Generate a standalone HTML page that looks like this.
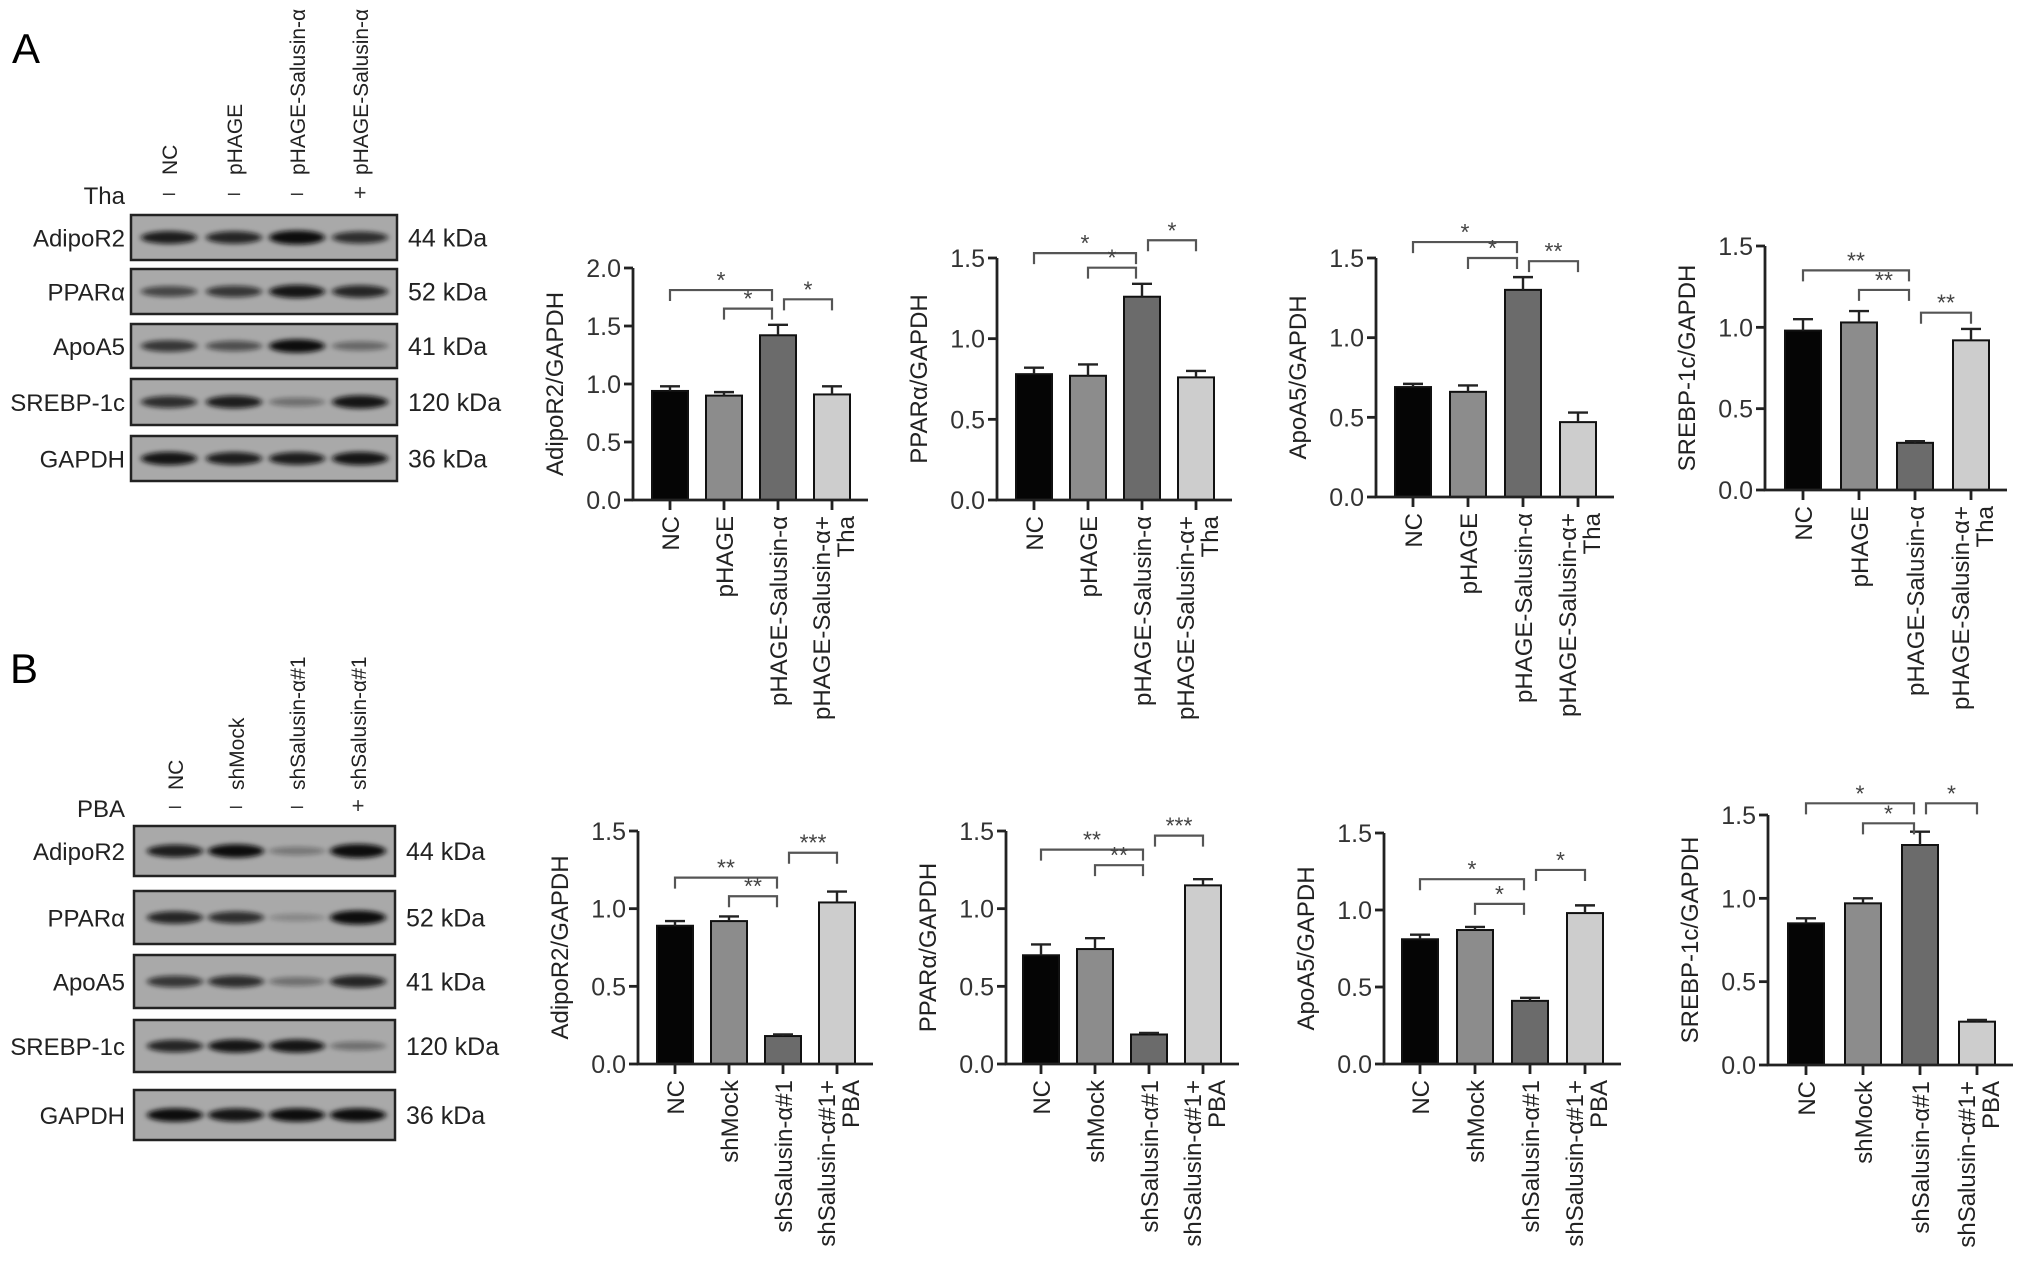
<!DOCTYPE html>
<html><head><meta charset="utf-8"><style>
html,body{margin:0;padding:0;background:#fff;}
svg{display:block;font-family:"Liberation Sans",Arial,sans-serif;}
</style></head><body>
<svg id="fig" width="2031" height="1272" viewBox="0 0 2031 1272" xmlns="http://www.w3.org/2000/svg">
<defs><filter id="blur" x="-20%" y="-100%" width="140%" height="300%"><feGaussianBlur stdDeviation="3 2.5"/></filter></defs>
<text x="12" y="63" font-size="42">A</text>
<text x="10" y="683" font-size="42">B</text>
<g id="blots"></g>
<g id="charts"></g>
</svg>
<script>
const NS='http://www.w3.org/2000/svg';
function mk(tag,attrs,parent,txt){const e=document.createElementNS(NS,tag);for(const k in attrs)e.setAttribute(k,attrs[k]);if(txt!==undefined)e.textContent=txt;parent.appendChild(e);return e;}

// ---------- chart data ----------
const catsA=['NC','pHAGE','pHAGE-Salusin-α',['pHAGE-Salusin-α+','Tha']];
const catsB=['NC','shMock','shSalusin-α#1',['shSalusin-α#1+','PBA']];
const a1Vals=[0.94,0.90,1.42,0.91]; const a1Err=[0.04,0.03,0.09,0.07];
const a2Vals=[0.78,0.77,1.26,0.76]; const a2Err=[0.04,0.07,0.08,0.04];
const a3Vals=[0.69,0.66,1.30,0.47]; const a3Err=[0.02,0.04,0.08,0.06];
const a4Vals=[0.98,1.03,0.29,0.92]; const a4Err=[0.07,0.07,0.01,0.07];
const b1Vals=[0.89,0.92,0.18,1.04]; const b1Err=[0.03,0.03,0.01,0.07];
const b2Vals=[0.70,0.74,0.19,1.15]; const b2Err=[0.07,0.07,0.01,0.04];
const b3Vals=[0.81,0.87,0.41,0.98]; const b3Err=[0.03,0.02,0.02,0.05];
const b4Vals=[0.85,0.97,1.32,0.26]; const b4Err=[0.03,0.03,0.08,0.01];
const ticks2=['0.0','0.5','1.0','1.5','2.0'];
const ticks15=['0.0','0.5','1.0','1.5'];
// significance brackets: [fromBar,toBar,level,label]
const a1Sig=[[0,2,1.81,'*'],[1,2,1.65,'*'],[2,3,1.73,'*']];
const a2Sig=[[0,2,1.53,'*'],[1,2,1.44,'*'],[2,3,1.61,'*']];
const a3Sig=[[0,2,1.60,'*'],[1,2,1.50,'*'],[2,3,1.48,'**']];
const a4Sig=[[0,2,1.35,'**'],[1,2,1.23,'**'],[2,3,1.09,'**']];
const b1Sig=[[0,2,1.20,'**'],[1,2,1.08,'**'],[2,3,1.36,'***']];
const b2Sig=[[0,2,1.38,'**'],[1,2,1.28,'**'],[2,3,1.47,'***']];
const b3Sig=[[0,2,1.20,'*'],[1,2,1.04,'*'],[2,3,1.26,'*']];
const b4Sig=[[0,2,1.57,'*'],[1,2,1.45,'*'],[2,3,1.57,'*']];
const fills=['#050505','#8c8c8c','#6b6b6b','#cdcdcd'];

function chart(o){
  const g=mk('g',{},document.getElementById('charts'));
  
  
  const ymax=parseFloat(o.ticks[o.ticks.length-1]);
  const y=v=>o.zero-(v/ymax)*(o.zero-o.top);
  const x=i=>o.ax+o.off+i*o.sp;
  const bw=36;
  o.vals.forEach((v,i)=>{
    const r=mk('rect',{x:x(i)-bw/2,y:y(v),width:bw,height:o.zero-y(v),fill:fills[i],stroke:'#111','stroke-width':2},g);
    
    
    const e=o.err[i];
    const p=mk('path',{d:`M${x(i)},${y(v)} V${y(v+e)} M${x(i)-10},${y(v+e)} H${x(i)+10}`,stroke:'#222','stroke-width':2.4,fill:'none'},g);
    
    
  });
  const axEnd=x(3)+bw/2+18;
  mk('path',{d:`M${o.ax},${o.top} V${o.zero} H${axEnd}`,stroke:'#222','stroke-width':2.8,fill:'none'},g);
  o.ticks.forEach((t,i)=>{
    const ty=y(parseFloat(t));
    mk('line',{x1:o.ax-9,x2:o.ax,y1:ty,y2:ty,stroke:'#222','stroke-width':2.8},g);
    const tt=mk('text',{x:o.ax-12,y:ty+9,'font-size':25,'text-anchor':'end',fill:'#333'},g,t);
    
    
  });
  const yt=mk('text',{transform:`translate(${o.ax-70},${(o.top+o.zero)/2}) rotate(-90)`,'font-size':24,'text-anchor':'middle',fill:'#222'},g,o.title);
  
  
  o.cats.forEach((c,i)=>{
    mk('line',{x1:x(i),x2:x(i),y1:o.zero,y2:o.zero+10,stroke:'#222','stroke-width':2.8},g);
    const lines=Array.isArray(c)?c:[c];
    lines.forEach((l,j)=>{
      const dx=lines.length>1?(j===0?-11:13):0;
      const ct=mk('text',{transform:`translate(${x(i)+9+dx},${o.zero+16}) rotate(-90)`,'font-size':24,'text-anchor':'end',fill:'#222'},g,l);
      
      
    });
  });
  o.sig.forEach(s=>{
    const by=y(s[2]);
    const x1=x(s[0])+(s[0]===2?6:0), x2=x(s[1])-(s[1]===2?6:0);
    const bp=mk('path',{d:`M${x1},${by+11} V${by} H${x2} V${by+11}`,stroke:'#555','stroke-width':2.2,fill:'none'},g);
    
    
    const st=mk('text',{x:(x1+x2)/2,y:by-2,'font-size':23,'text-anchor':'middle',fill:'#444'},g,s[3]);
    
    
  });
}
chart({name:'chart-a-adipor2',ax:633,top:268,zero:500,off:37,sp:54,ticks:ticks2,vals:a1Vals,err:a1Err,sig:a1Sig,cats:catsA,title:'AdipoR2/GAPDH'});
chart({name:'chart-a-ppara',ax:997,top:258,zero:500,off:37,sp:54,ticks:ticks15,vals:a2Vals,err:a2Err,sig:a2Sig,cats:catsA,title:'PPARα/GAPDH'});
chart({name:'chart-a-apoa5',ax:1376,top:258,zero:497,off:37,sp:55,ticks:ticks15,vals:a3Vals,err:a3Err,sig:a3Sig,cats:catsA,title:'ApoA5/GAPDH'});
chart({name:'chart-a-srebp1c',ax:1765,top:246,zero:490,off:38,sp:56,ticks:ticks15,vals:a4Vals,err:a4Err,sig:a4Sig,cats:catsA,title:'SREBP-1c/GAPDH'});
chart({name:'chart-b-adipor2',ax:638,top:831,zero:1064,off:37,sp:54,ticks:ticks15,vals:b1Vals,err:b1Err,sig:b1Sig,cats:catsB,title:'AdipoR2/GAPDH'});
chart({name:'chart-b-ppara',ax:1006,top:831,zero:1064,off:35,sp:54,ticks:ticks15,vals:b2Vals,err:b2Err,sig:b2Sig,cats:catsB,title:'PPARα/GAPDH'});
chart({name:'chart-b-apoa5',ax:1384,top:833,zero:1064,off:36,sp:55,ticks:ticks15,vals:b3Vals,err:b3Err,sig:b3Sig,cats:catsB,title:'ApoA5/GAPDH'});
chart({name:'chart-b-srebp1c',ax:1768,top:815,zero:1065,off:38,sp:57,ticks:ticks15,vals:b4Vals,err:b4Err,sig:b4Sig,cats:catsB,title:'SREBP-1c/GAPDH'});

// ---------- blots ----------
const blotRows=['AdipoR2','PPARα','ApoA5','SREBP-1c','GAPDH'];
const blotKda=['44 kDa','52 kDa','41 kDa','120 kDa','36 kDa'];
const blotAIntensity=[[0.85,0.8,1,0.75],[0.6,0.7,0.9,0.8],[0.7,0.55,0.95,0.4],[0.75,0.85,0.35,0.9],[0.9,0.85,0.85,0.9]];
const blotBIntensity=[[0.85,0.95,0.3,1],[0.8,0.75,0.2,1],[0.7,0.75,0.35,0.8],[0.8,0.9,0.9,0.35],[0.95,0.9,0.95,0.95]];
function blot(o){
  const g=mk('g',{},document.getElementById('blots'));
  
  
  o.lanes.forEach((ln,i)=>{
    const t=mk('text',{transform:`translate(${o.lx[i]+8},${o.headY}) rotate(-90)`,'font-size':21,'text-anchor':'start',fill:'#222'},g,ln);
    
    
    const s=mk('text',{x:o.lx[i],y:o.signY,'font-size':22,'text-anchor':'middle',fill:'#333'},g,o.signs[i]);
    
    
  });
  const tl=mk('text',{x:125,y:o.signY+4,'font-size':24,'text-anchor':'end',fill:'#222'},g,o.treat);
  
  
  o.rows.forEach((r,ri)=>{
    const [y0,y1]=o.ry[ri];
    const box=mk('rect',{x:o.bx0,y:y0,width:o.bx1-o.bx0,height:y1-y0,fill:'#a9a9a9',stroke:'#222','stroke-width':2.5},g);
    
    
    const cy=(y0+y1)/2;
    o.lx.forEach((lx,i)=>{
      const a=o.int[ri][i];
      const el=mk('ellipse',{cx:lx,cy:cy,rx:28,ry:3+4*a,fill:'#0a0a0a',opacity:Math.min(1,a*1.05),filter:'url(#blur)'},g);
      
      
    });
    const rl=mk('text',{x:125,y:cy+9,'font-size':24,'text-anchor':'end',fill:'#222'},g,r);
    
    
    const kl=mk('text',{x:o.bx1+11,y:cy+9,'font-size':25,'text-anchor':'start',fill:'#222'},g,blotKda[ri]);
    
    
  });
}
blot({name:'blot-a',lanes:['NC','pHAGE','pHAGE-Salusin-α','pHAGE-Salusin-α'],lx:[169,234,297,360],headY:175,signY:200,signs:['–','–','–','+'],treat:'Tha',
  rows:blotRows,ry:[[215,260],[269,314],[324,368],[379,425],[436,481]],bx0:131,bx1:397,int:blotAIntensity});
blot({name:'blot-b',lanes:['NC','shMock','shSalusin-α#1','shSalusin-α#1'],lx:[175,236,297,358],headY:790,signY:813,signs:['–','–','–','+'],treat:'PBA',
  rows:blotRows,ry:[[826,876],[891,944],[955,1008],[1020,1072],[1090,1140]],bx0:134,bx1:395,int:blotBIntensity});
</script>
</body></html>
